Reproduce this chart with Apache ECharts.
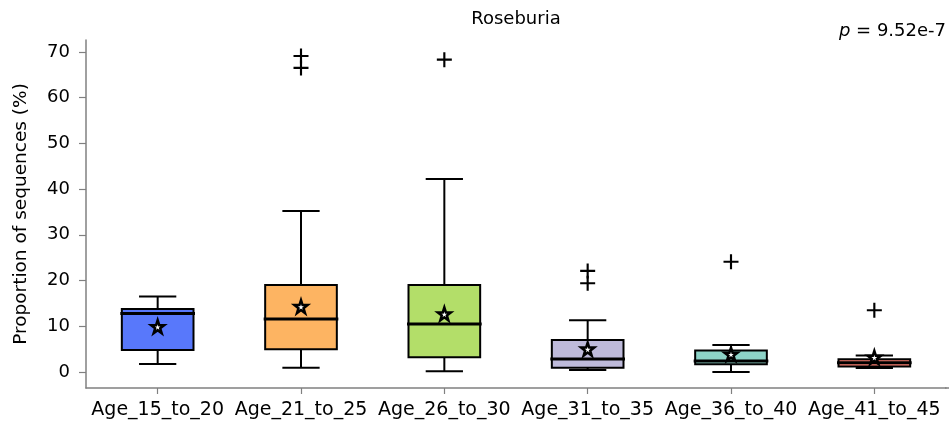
<!DOCTYPE html>
<html>
<head>
<meta charset="utf-8">
<script src="https://cdn.jsdelivr.net/npm/echarts@6/dist/echarts.min.js"></script>
<style>
  html, body { margin: 0; padding: 0; background: #fff; }
  #chart { width: 949px; height: 425px; }
</style>
</head>
<body>
<div id="chart"></div>
<script>
// Roseburia relative abundance by age group
const categories = ['Age_15_to_20', 'Age_21_to_25', 'Age_26_to_30', 'Age_31_to_35', 'Age_36_to_40', 'Age_41_to_45'];
// five-number summaries: lower whisker, Q1, median, Q3, upper whisker
const whiskerLow  = [1.75, 0.95, 0.15, 0.45, 0.0, 0.9];
const q1          = [4.8, 5.0, 3.2, 0.95, 1.7, 1.2];
const medians     = [12.8, 11.6, 10.5, 2.85, 2.4, 2.0];
const q3          = [13.8, 19.0, 19.0, 7.0, 4.7, 2.8];
const whiskerHigh = [16.5, 35.2, 42.2, 11.3, 5.9, 3.6];
const means       = [9.9, 14.3, 12.7, 5.0, 3.9, 3.2];
// outliers as [category index, value]
const outliers = [[1, 69.1], [1, 66.5], [2, 68.3], [3, 22.1], [3, 19.4], [4, 24.1], [5, 13.5]];
const yTicks = [0, 10, 20, 30, 40, 50, 60, 70];
const pValueText = '9.52e-7';

const boxColors = ['#5878fb', '#fdb462', '#b3de69', '#bebada', '#8dd3c7', '#fb8072'];

const boxData = categories.map((c, i) => [i, whiskerLow[i], q1[i], medians[i], q3[i], whiskerHigh[i]]);

const font = 'DejaVu Sans';
const axisGray = '#808080';
const chart = echarts.init(document.getElementById('chart'));

function renderBox(params, api) {
  const i = api.value(0);
  const band = api.size([1, 0])[0];
  const halfBox = band * 0.25;
  const halfCap = band * 0.13;
  const pLow = api.coord([i, api.value(1)]);
  const pQ1 = api.coord([i, api.value(2)]);
  const pMed = api.coord([i, api.value(3)]);
  const pQ3 = api.coord([i, api.value(4)]);
  const pHigh = api.coord([i, api.value(5)]);
  const cx = pQ1[0];
  const line = { stroke: '#000', lineWidth: 2 };
  return {
    type: 'group',
    children: [
      { type: 'line', shape: { x1: cx, y1: pQ3[1], x2: cx, y2: pHigh[1] }, style: line },
      { type: 'line', shape: { x1: cx, y1: pQ1[1], x2: cx, y2: pLow[1] }, style: line },
      { type: 'line', shape: { x1: cx - halfCap, y1: pHigh[1], x2: cx + halfCap, y2: pHigh[1] }, style: line },
      { type: 'line', shape: { x1: cx - halfCap, y1: pLow[1], x2: cx + halfCap, y2: pLow[1] }, style: line },
      { type: 'rect', shape: { x: cx - halfBox, y: pQ3[1], width: halfBox * 2, height: pQ1[1] - pQ3[1] },
        style: { fill: boxColors[i], stroke: '#000', lineWidth: 2 } },
      { type: 'line', shape: { x1: cx - halfBox - 1.5, y1: pMed[1], x2: cx + halfBox + 1.5, y2: pMed[1] },
        style: { stroke: '#000', lineWidth: 3 } }
    ]
  };
}

const starPath = 'path://M50,0 L61.8,35.1 L98.9,35.1 L68.9,56.9 L80.3,91.9 L50,70.4 L19.7,91.9 L31.1,56.9 L1.1,35.1 L38.2,35.1 Z';
const plusPath = 'path://M6,0H8V6H14V8H8V14H6V8H0V6H6Z';

chart.setOption({
  animation: false,
  backgroundColor: '#fff',
  textStyle: { fontFamily: font },
  grid: { left: 86, right: 3, top: 40, bottom: 37, containLabel: false },
  graphic: [
    { type: 'text', x: 516, y: 19, style: {
        text: 'Roseburia', fontFamily: font, fontSize: 18, fill: '#000',
        align: 'center', verticalAlign: 'middle' } },
    { type: 'text', x: 946, y: 31, style: {
        text: '{i|p} = ' + pValueText,
        fontFamily: font, fontSize: 18, fill: '#000',
        align: 'right', verticalAlign: 'middle',
        rich: { i: { fontStyle: 'italic', fontFamily: font, fontSize: 18, fill: '#000' } } } },
    // spine continues a little past the last category band
    { type: 'line', shape: { x1: 945, y1: 388, x2: 949, y2: 388 }, style: { stroke: axisGray, lineWidth: 1.5 } }
  ],
  xAxis: {
    type: 'category',
    data: categories,
    boundaryGap: true,
    axisLine: { onZero: false, lineStyle: { color: axisGray, width: 1.5 } },
    axisTick: { show: true, alignWithLabel: true, length: 6, lineStyle: { color: axisGray, width: 1.2 } },
    axisLabel: { color: '#000', fontSize: 19, fontFamily: font, margin: 13, interval: 0 },
    splitLine: { show: false }
  },
  yAxis: {
    type: 'value',
    min: -3.5,
    max: 72.6,
    name: 'Proportion of sequences (%)',
    nameLocation: 'middle',
    nameGap: 55,
    nameRotate: 90,
    nameTextStyle: { color: '#000', fontSize: 18.5, fontFamily: font },
    axisLine: { show: true, onZero: false, lineStyle: { color: axisGray, width: 1.5 } },
    axisTick: { show: true, length: 7, lineStyle: { color: axisGray, width: 1.2 }, customValues: yTicks },
    axisLabel: { color: '#000', fontSize: 18, fontFamily: font, margin: 16, customValues: yTicks },
    splitLine: { show: false }
  },
  series: [
    {
      type: 'custom',
      renderItem: renderBox,
      data: boxData,
      encode: { x: 0, y: [1, 2, 3, 4, 5] },
      z: 2
    },
    {
      type: 'scatter',
      data: categories.map((c, i) => [i, means[i]]),
      symbol: starPath,
      symbolSize: 13,
      itemStyle: { color: '#fff', borderColor: '#000', borderWidth: 2.5, opacity: 1 },
      z: 5
    },
    {
      type: 'scatter',
      data: outliers,
      symbol: plusPath,
      symbolSize: 15,
      itemStyle: { color: '#000', opacity: 1 },
      z: 4
    }
  ]
});
</script>
</body>
</html>
